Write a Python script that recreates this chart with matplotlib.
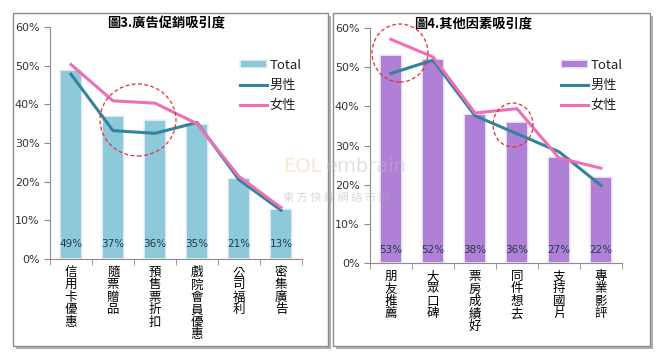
import numpy as np
import matplotlib
matplotlib.use('Agg')
import matplotlib.pyplot as plt
from matplotlib.patches import Rectangle, Ellipse
from matplotlib.ticker import FixedLocator, PercentFormatter

plt.rcParams['font.family'] = ['Noto Sans CJK TC', 'DejaVu Sans']

# ------------------------------Data------------------------------
cats_left = ['信用卡優惠', '隨票贈品', '預售票折扣', '戲院會員優惠', '公司福利', '密集廣告']
total_left = [49, 37, 36, 35, 21, 13]
male_left = [47.8, 33.2, 32.5, 35.3, 20.5, 12.6]
female_left = [50.3, 40.9, 40.3, 35.0, 21.3, 13.3]

cats_right = ['朋友推薦', '大眾口碑', '票房成績好', '同件想去', '支持國片', '專業影評']
total_right = [53, 52, 38, 36, 27, 22]
male_right = [48.4, 51.8, 37.6, 33.0, 28.4, 19.8]
female_right = [57.1, 52.6, 38.3, 39.4, 26.8, 24.2]

yticks = [0, 10, 20, 30, 40, 50, 60]

W, H = 663, 360
fig = plt.figure(figsize=(W / 100, H / 100), dpi=100)
fig.patch.set_facecolor('white')


def px(x0, y0, x1, y1):
    # pixel box -> figure fraction rect
    return [x0 / W, 1 - y1 / H, (x1 - x0) / W, (y1 - y0) / H]


# panel frames with shadow
for (bx0, by0, bx1, by1) in [(13, 13, 328, 346), (333, 13, 650, 346)]:
    fig.patches.append(Rectangle((bx0 / W + 3 / W, 1 - (by1 + 3) / H), (bx1 - bx0) / W, (by1 - by0) / H,
                                 transform=fig.transFigure, facecolor='#b0b0b0', edgecolor='none', zorder=-2))
    fig.patches.append(Rectangle((bx0 / W, 1 - by1 / H), (bx1 - bx0) / W, (by1 - by0) / H,
                                 transform=fig.transFigure, facecolor='white', edgecolor='#8c8c8c',
                                 linewidth=1.0, zorder=-1))


def draw_panel(rect, cats, total, male, female, bar_color, title, lab_y, title_x, leg_anchor):
    ax = fig.add_axes(rect)
    ax.set_zorder(1)
    ax.patch.set_alpha(0)
    x = np.arange(len(cats))
    b = ax.bar(x, total, width=0.52, color=bar_color, edgecolor='#f0f0f8', linewidth=1.2, label='Total', zorder=2)
    lm, = ax.plot(x, male, color='#31849B', linewidth=2.2, label='男性', zorder=3)
    lf, = ax.plot(x, female, color='#F06EB4', linewidth=2.2, label='女性', zorder=3)
    for xi, v in zip(x, total):
        ax.text(xi, lab_y, '%d%%' % v, ha='center', va='center', fontsize=7.5,
                color='#1f3d4d', family=['DejaVu Sans'], zorder=4)
    ax.set_xlim(-0.5, len(cats) - 0.5)
    ax.set_ylim(0, 60)
    ax.set_yticks(yticks)
    ax.yaxis.set_major_formatter(PercentFormatter(decimals=0))
    ax.set_xticks(x)
    ax.set_xticklabels(['\n'.join(c) for c in cats], fontsize=9, linespacing=0.95, va='top')
    ax.xaxis.set_minor_locator(FixedLocator(np.arange(len(cats) + 1) - 0.5))
    ax.tick_params(axis='x', which='major', length=0, pad=5)
    ax.tick_params(axis='x', which='minor', length=4, color='#8c8c8c', direction='out')
    ax.tick_params(axis='y', length=4, color='#8c8c8c', labelsize=8, labelcolor='#333333')
    for lab in ax.get_yticklabels():
        lab.set_family(['DejaVu Sans'])
    for s in ['top', 'right']:
        ax.spines[s].set_visible(False)
    for s in ['left', 'bottom']:
        ax.spines[s].set_color('#8c8c8c')
    fig.text(title_x, 1 - 23 / H, title, ha='center', va='center', fontsize=9.5, fontweight='bold')
    leg = ax.legend([b, lm, lf], ['Total', '男性', '女性'], loc='upper left', bbox_to_anchor=leg_anchor,
                    bbox_transform=fig.transFigure, frameon=False, fontsize=9.5, handlelength=2.1,
                    handleheight=0.5, labelspacing=0.55, handletextpad=0.15, borderpad=0)
    for t in leg.get_texts():
        t.set_color('#222222')
    return ax


axL = draw_panel(px(50, 27, 302, 259), cats_left, total_left, male_left, female_left,
                 '#8EC9DA', '圖3.廣告促銷吸引度', 3.8, 166 / W, (233 / W, 1 - 52 / H))
axR = draw_panel(px(370, 28, 622, 263), cats_right, total_right, male_right, female_right,
                 '#B07FD6', '圖4.其他因素吸引度', 3.4, 473 / W, (554 / W, 1 - 52 / H))

# red dashed highlight circles
for (cx, cy, rx, ry) in [(138, 120, 38, 36), (400, 53, 28, 29), (513, 125, 20, 22)]:
    fig.patches.append(Ellipse((cx / W, 1 - cy / H), 2 * rx / W, 2 * ry / H, transform=fig.transFigure,
                               fill=False, edgecolor='#e03030', linestyle=(0, (3, 2)), linewidth=0.9,
                               zorder=5))

# faint watermark
fig.text(283 / W, 1 - 166 / H, 'EOL', fontsize=14, color='#f5d9b0', alpha=0.6, va='center',
         family=['DejaVu Sans'], zorder=2)
fig.text(326 / W, 1 - 166 / H, 'embrain', fontsize=14, color='#b8bcc8', alpha=0.45, va='center',
         family=['DejaVu Sans'], zorder=2)
fig.text(283 / W, 1 - 198 / H, '東 方 快 線 網 絡 市 調', fontsize=8, color='#a8a8b8', alpha=0.45,
         va='center', zorder=2)

fig.savefig('out.png', dpi=100, facecolor='white')
